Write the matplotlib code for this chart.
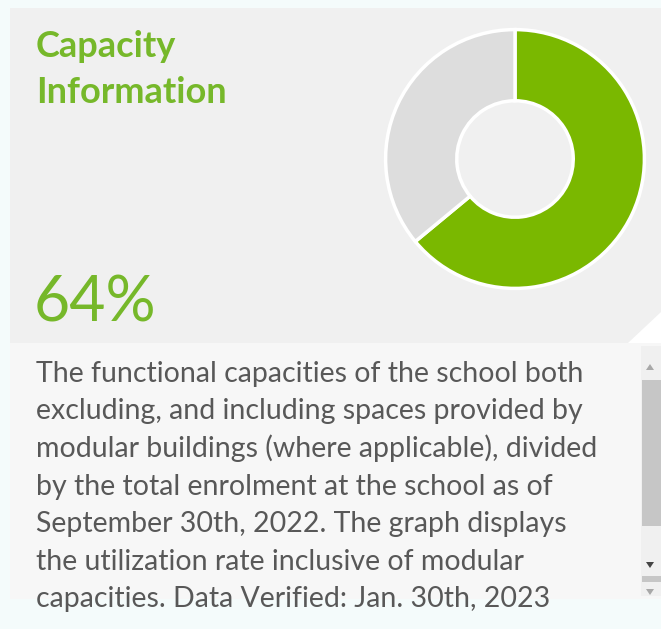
import matplotlib.pyplot as plt
from matplotlib.patches import Rectangle, Polygon

plt.rcParams["font.family"] = ["Lato", "DejaVu Sans"]

SEGMENTS = ["Utilized", "Remaining"]
SHARES = [64, 36]
SEGMENT_COLORS = ["#7ab800", "#dddddd"]
TITLE_LINES = ["Capacity", "Information"]
BODY_LINES = [
    "The functional capacities of the school both",
    "excluding, and including spaces provided by",
    "modular buildings (where applicable), divided",
    "by the total enrolment at the school as of",
    "September 30th, 2022. The graph displays",
    "the utilization rate inclusive of modular",
    "capacities. Data Verified: Jan. 30th, 2023",
]

GREEN = "#76b82a"
W, H = 661, 629

fig = plt.figure(figsize=(W / 100, H / 100), dpi=100)
fig.patch.set_facecolor("#f4fbfb")

# pixel-space canvas for panels and text
bg = fig.add_axes([0, 0, 1, 1])
bg.set_xlim(0, W)
bg.set_ylim(H, 0)
bg.axis("off")
bg.add_patch(Rectangle((10, 8), W - 10, 335, color="#f0f0f0", lw=0))
bg.add_patch(Rectangle((10, 343), W - 10, 256, color="#f7f7f7", lw=0))
bg.add_patch(Polygon([[628, 343], [661, 312], [661, 343]], color="#ffffff", lw=0))

# scrollbar
bg.add_patch(Rectangle((641, 346), 20, 250, color="#f0f0f0", lw=0))
bg.add_patch(Polygon([[646, 370], [654, 370], [650, 364]], color="#a8a8a8", lw=0))
bg.add_patch(Rectangle((642, 380), 19, 146, color="#c6c6c6", lw=0))
bg.add_patch(Polygon([[646, 562], [654, 562], [650, 568]], color="#444444", lw=0))
bg.add_patch(Rectangle((642, 576), 19, 6, color="#c6c6c6", lw=0))
bg.add_patch(Polygon([[646, 589], [654, 589], [650, 595]], color="#a8a8a8", lw=0))

for i, line in enumerate(TITLE_LINES):
    bg.text(36, 57 + i * 46, line, color=GREEN, fontsize=26, fontweight="bold",
            va="baseline", ha="left")
bg.text(34, 322, f"{SHARES[0]}%", color=GREEN, fontsize=45,
        va="baseline", ha="left")
for i, line in enumerate(BODY_LINES):
    bg.text(36, 382 + i * 37.5, line, color="#585858", fontsize=20.5,
            va="baseline", ha="left")

# donut
cx, cy, r = 515, 159, 132
ax = fig.add_axes([(cx - r) / W, 1 - (cy + r) / H, 2 * r / W, 2 * r / H])
ax.pie(SHARES, colors=SEGMENT_COLORS, startangle=90, counterclock=False,
       radius=1.0, wedgeprops=dict(width=0.55, edgecolor="white", linewidth=2.5))
ax.set_aspect("equal")
ax.set_xlim(-1.02, 1.02)
ax.set_ylim(-1.02, 1.02)

fig.savefig("out.png", dpi=100, facecolor=fig.get_facecolor())
